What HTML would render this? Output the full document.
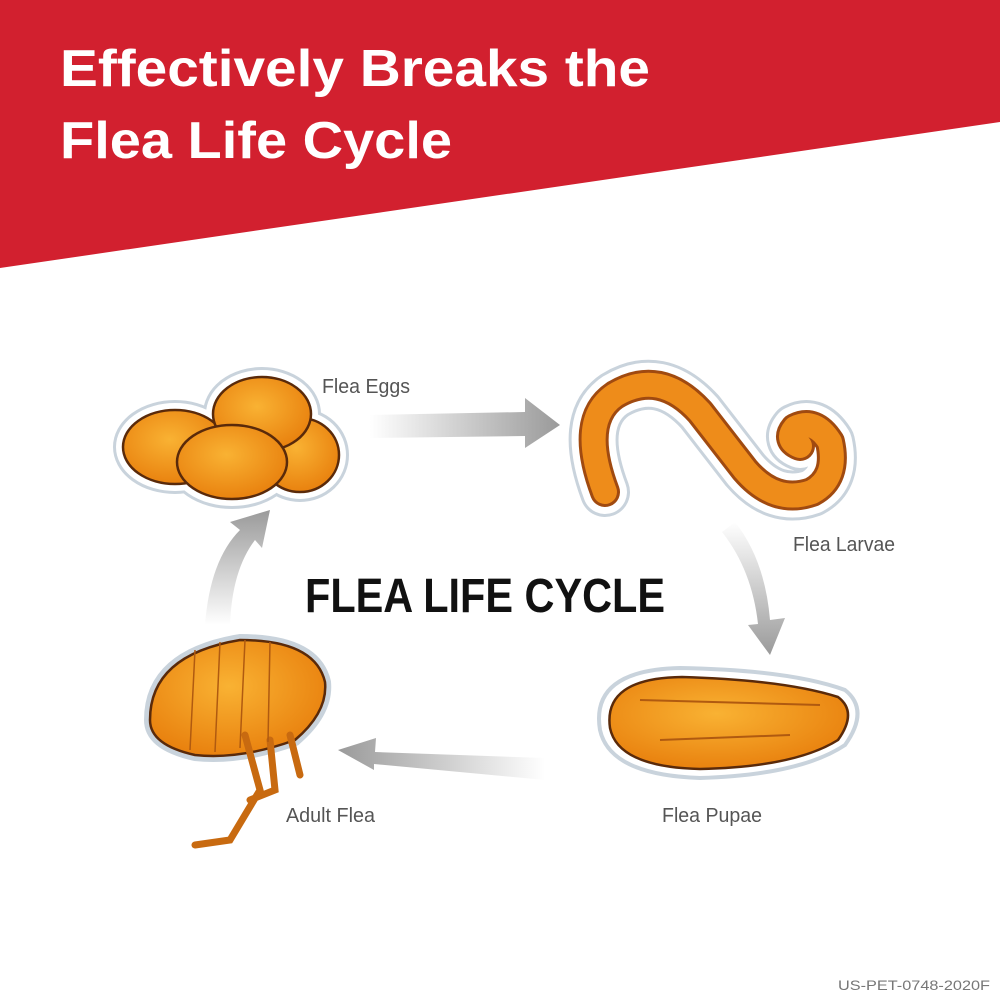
<!DOCTYPE html>
<html><head><meta charset="utf-8"><style>html,body{margin:0;padding:0;background:#fff}svg{display:block}</style></head>
<body>
<svg width="1000" height="1000" viewBox="0 0 1000 1000" xmlns="http://www.w3.org/2000/svg">
<defs>
<linearGradient id="ah" x1="0" x2="1" y1="0" y2="0"><stop offset="0" stop-color="#fff"/><stop offset="1" stop-color="#9a9a9a"/></linearGradient>
<linearGradient id="ahr" x1="1" x2="0" y1="0" y2="0"><stop offset="0" stop-color="#fff"/><stop offset="1" stop-color="#9a9a9a"/></linearGradient>
<linearGradient id="av" x1="0" x2="0" y1="0" y2="1"><stop offset="0" stop-color="#fff"/><stop offset="1" stop-color="#9a9a9a"/></linearGradient>
<linearGradient id="avu" x1="0" x2="0" y1="1" y2="0"><stop offset="0" stop-color="#fff"/><stop offset="1" stop-color="#9a9a9a"/></linearGradient>
<radialGradient id="or" cx="0.45" cy="0.4" r="0.6"><stop offset="0" stop-color="#f9b233"/><stop offset="1" stop-color="#e9820f"/></radialGradient>
</defs>
<polygon points="0,0 1000,0 1000,122 0,268" fill="#d2202f"/>
<g font-family="Liberation Sans, sans-serif" font-weight="bold" font-size="52" fill="#fff">
<text x="60" y="86" textLength="590" lengthAdjust="spacingAndGlyphs">Effectively Breaks the</text>
<text x="60" y="158" textLength="392" lengthAdjust="spacingAndGlyphs">Flea Life Cycle</text>
</g>

<!-- arrows -->
<path d="M370,415 L525,412 L525,398 L560,425 L525,448 L525,436 L370,438 Z" fill="url(#ah)"/>
<path d="M735,522 Q765,560 770,620 L785,618 L770,655 L748,625 L758,624 Q752,570 722,532 Z" fill="url(#av)"/>
<path d="M545,758 L375,752 L376,738 L338,750 L374,770 L374,764 L545,780 Z" fill="url(#ahr)"/>
<path d="M205,625 Q210,560 240,530 L230,522 L270,510 L262,548 L255,540 Q232,570 230,625 Z" fill="url(#avu)"/>

<!-- eggs -->
<g stroke="#c9d3dc" stroke-width="14" fill="#fff">
<ellipse cx="175" cy="447" rx="55" ry="40"/><ellipse cx="262" cy="414" rx="52" ry="40"/><ellipse cx="300" cy="455" rx="42" ry="40"/><ellipse cx="232" cy="462" rx="58" ry="40"/>
</g>
<g stroke="#fff" stroke-width="8" fill="none"><ellipse cx="175" cy="447" rx="55" ry="40"/><ellipse cx="262" cy="414" rx="52" ry="40"/><ellipse cx="300" cy="455" rx="42" ry="40"/><ellipse cx="232" cy="462" rx="58" ry="40"/></g>
<g stroke="#5a2a0a" stroke-width="2.5" fill="url(#or)">
<ellipse cx="175" cy="447" rx="52" ry="37"/><ellipse cx="300" cy="455" rx="39" ry="37"/><ellipse cx="262" cy="414" rx="49" ry="37"/><ellipse cx="232" cy="462" rx="55" ry="37"/>
</g>

<!-- larvae -->
<g fill="none" stroke-linecap="round" stroke-linejoin="round">
<path id="w" d="M605,492 Q578,420 615,395 Q660,368 700,412 L745,470 Q775,505 812,492 Q838,478 830,442 Q815,418 795,428 Q785,440 800,446" stroke="#c9d3dc" stroke-width="50"/>
<path d="M605,492 Q578,420 615,395 Q660,368 700,412 L745,470 Q775,505 812,492 Q838,478 830,442 Q815,418 795,428 Q785,440 800,446" stroke="#fff" stroke-width="44"/>
<path d="M605,492 Q578,420 615,395 Q660,368 700,412 L745,470 Q775,505 812,492 Q838,478 830,442 Q815,418 795,428 Q785,440 800,446" stroke="#a04a10" stroke-width="30"/>
<path d="M605,492 Q578,420 615,395 Q660,368 700,412 L745,470 Q775,505 812,492 Q838,478 830,442 Q815,418 795,428 Q785,440 800,446" stroke="#ee8c1a" stroke-width="24"/>
</g>

<!-- pupae -->
<path d="M600,730 Q590,670 680,668 Q790,670 845,690 Q870,710 845,745 Q800,775 700,778 Q610,775 600,730 Z" fill="#fff" stroke="#c9d3dc" stroke-width="4"/>
<path d="M610,728 Q603,678 682,677 Q785,680 838,697 Q858,712 838,740 Q795,767 700,769 Q618,767 610,728 Z" fill="url(#or)" stroke="#5a2a0a" stroke-width="2.5"/>
<path d="M640,700 L820,705 M660,740 L790,735" stroke="#b05a10" stroke-width="2" fill="none"/>

<!-- adult flea -->
<path d="M150,720 Q150,655 240,640 Q315,640 325,682 Q328,712 295,740 Q240,760 195,755 Q150,745 150,720 Z" fill="url(#or)" stroke="#c9d3dc" stroke-width="12"/>
<path d="M150,720 Q150,655 240,640 Q315,640 325,682 Q328,712 295,740 Q240,760 195,755 Q150,745 150,720 Z" fill="url(#or)" stroke="#5a2a0a" stroke-width="2.5"/>
<path d="M245,735 L260,790 L230,840 L195,845 M290,735 L300,775 M270,740 L275,790 L250,800" stroke="#c86a10" stroke-width="7" fill="none" stroke-linecap="round"/>
<path d="M195,650 L190,750 M220,642 L215,752 M245,640 L240,748 M270,642 L268,742" stroke="#b05a10" stroke-width="1.5" fill="none"/>

<g font-family="Liberation Sans, sans-serif" font-size="20" fill="#555">
<text x="322" y="393" textLength="88" lengthAdjust="spacingAndGlyphs">Flea Eggs</text>
<text x="793" y="551" textLength="102" lengthAdjust="spacingAndGlyphs">Flea Larvae</text>
<text x="662" y="822" textLength="100" lengthAdjust="spacingAndGlyphs">Flea Pupae</text>
<text x="286" y="822" textLength="89" lengthAdjust="spacingAndGlyphs">Adult Flea</text>
</g>
<text x="305" y="612" font-family="Liberation Sans, sans-serif" font-weight="bold" font-size="48" fill="#111" textLength="360" lengthAdjust="spacingAndGlyphs">FLEA LIFE CYCLE</text>
<text x="990" y="990" text-anchor="end" font-family="Liberation Sans, sans-serif" font-size="14" fill="#777" textLength="152" lengthAdjust="spacingAndGlyphs">US-PET-0748-2020F</text>
</svg>
</body></html>
